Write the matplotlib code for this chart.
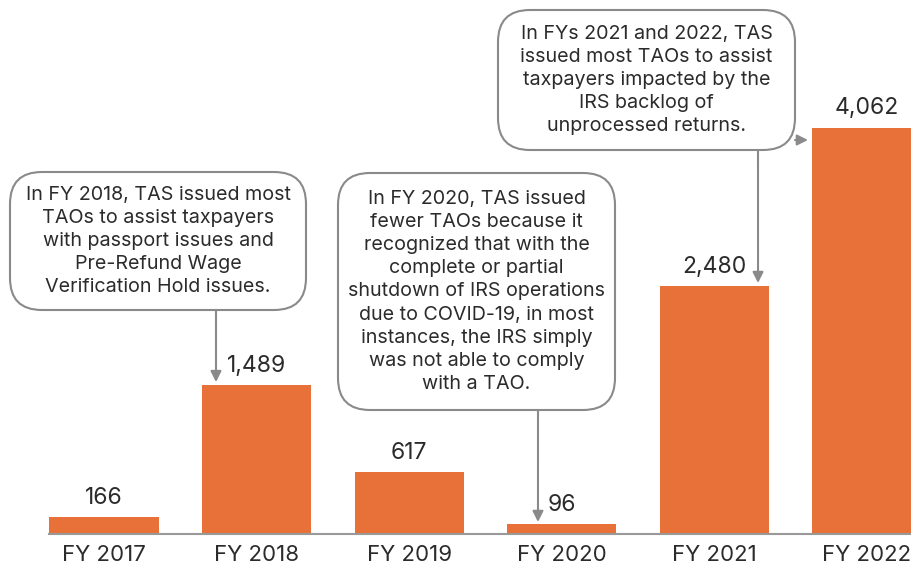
import matplotlib.pyplot as plt
from matplotlib.patches import FancyBboxPatch

plt.rcParams['font.family'] = ['Inter', 'DejaVu Sans']

## data
years = ['FY 2017', 'FY 2018', 'FY 2019', 'FY 2020', 'FY 2021', 'FY 2022']
taos = [166, 1489, 617, 96, 2480, 4062]
value_labels = ['166', '1,489', '617', '96', '2,480', '4,062']

note_2018 = ("In FY 2018, TAS issued most\nTAOs to assist taxpayers\nwith passport issues and\n"
             "Pre-Refund Wage\nVerification Hold issues.")
note_2020 = ("In FY 2020, TAS issued\nfewer TAOs because it\nrecognized that with the\n"
             "complete or partial\nshutdown of IRS operations\ndue to COVID-19, in most\n"
             "instances, the IRS simply\nwas not able to comply\nwith a TAO.")
note_2122 = ("In FYs 2021 and 2022, TAS\nissued most TAOs to assist\ntaxpayers impacted by the\n"
             "IRS backlog of\nunprocessed returns.")

W, H = 912, 566
bar_color = '#E8713A'
text_color = '#2b2b2b'
gray = '#8a8a8a'

fig = plt.figure(figsize=(W / 100, H / 100), dpi=100)
ax = fig.add_axes([0, 32 / H, 1, 534 / H])

x = list(range(len(years)))
ax.bar(x, taos, width=0.715, color=bar_color, zorder=2)
ax.set_xlim(-0.6815, 5.295)
ax.set_ylim(0, 5340)

for i, v in enumerate(taos):
    ax.annotate(value_labels[i], (i, v), xytext=(0, 6), textcoords='offset points',
                ha='center', va='bottom', fontsize=16.5, color=text_color)

for s in ['top', 'left', 'right']:
    ax.spines[s].set_visible(False)
ax.spines['bottom'].set_color('#999999')
ax.spines['bottom'].set_linewidth(1.5)
ax.spines['bottom'].set_bounds(-0.36, 5.3)
ax.set_yticks([])
ax.set_xticks(x)
ax.set_xticklabels(years, fontsize=16, color=text_color)
ax.tick_params(axis='x', length=0, pad=8)


def px(xp, yp):
    return xp / W, 1 - yp / H


def callout(x0, y0, x1, y1, text):
    bx, by = px(x0, y1)
    box = FancyBboxPatch((bx, by), (x1 - x0) / W, (y1 - y0) / H,
                         boxstyle='round,pad=0,rounding_size=0.035',
                         transform=fig.transFigure, facecolor='white',
                         edgecolor=gray, linewidth=1.5, zorder=3,
                         mutation_aspect=W / H)
    fig.patches.append(box)
    cx, cy = px((x0 + x1) / 2, (y0 + y1) / 2)
    fig.text(cx, cy, text, ha='center', va='center', fontsize=14.2,
             color=text_color, linespacing=1.36, zorder=4)


def arrow(start_px, tip):
    ax.annotate('', xy=tip, xycoords='data', xytext=px(*start_px),
                textcoords='figure fraction',
                arrowprops=dict(arrowstyle='-|>', color=gray, lw=1.5,
                                mutation_scale=16, shrinkA=0, shrinkB=0))


callout(10, 172, 306, 310, note_2018)
callout(338, 173, 615, 410, note_2020)
callout(498, 10, 795, 150, note_2122)

arrow((216, 310), (1 - 0.266, taos[1] + 30))
arrow((538, 410), (3 - 0.156, taos[3] + 24))
arrow((758, 150), (4 + 0.286, taos[4] + 30))
arrow((795, 140), (5 - 0.387, 3940))

fig.savefig('out.png', dpi=100)
